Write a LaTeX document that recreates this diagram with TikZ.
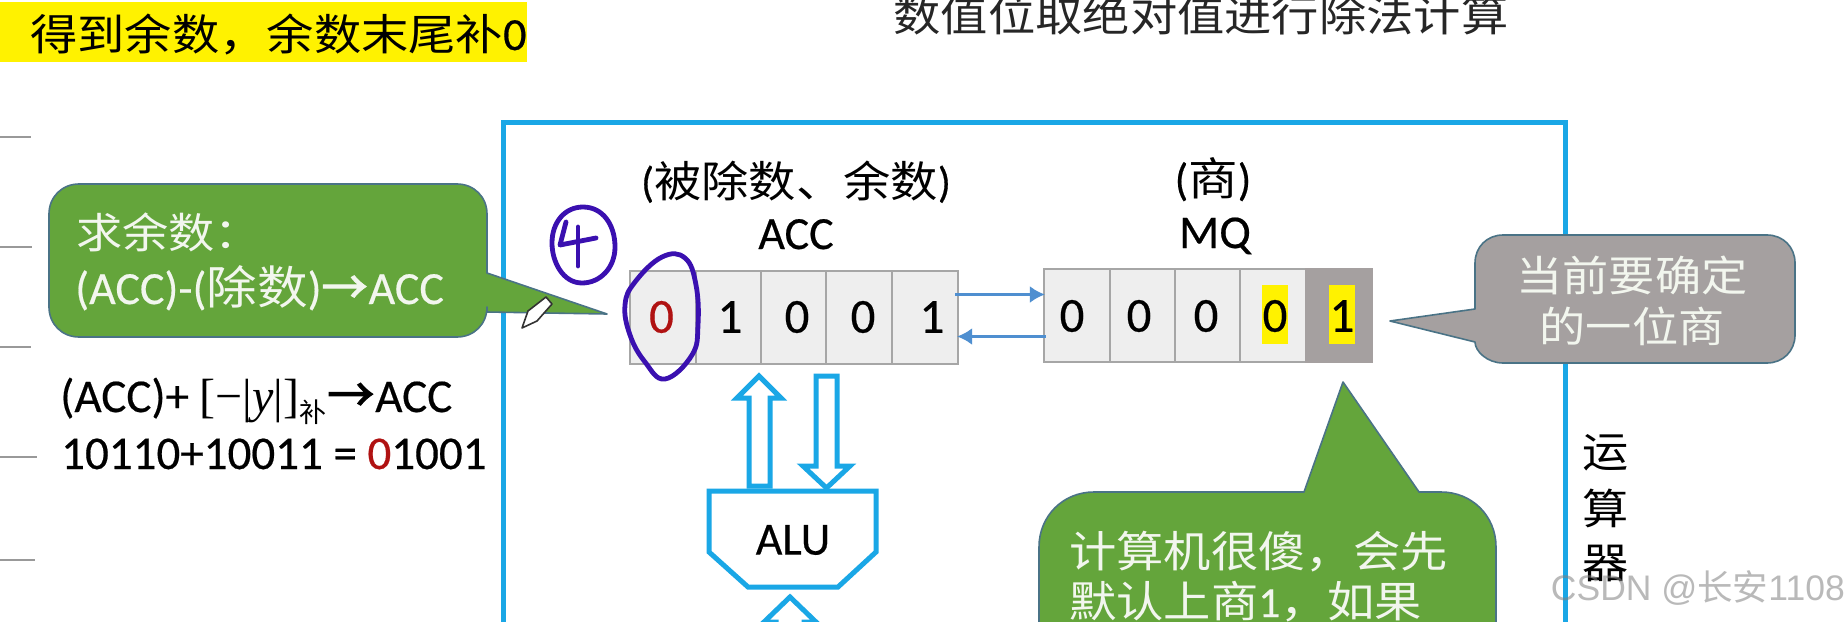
\documentclass[tikz,border=0pt]{standalone}
\usepackage{fontspec}
\setmainfont{Carlito}[FakeBold=0.4]
\newfontfamily\cjk[FakeStretch=1.1]{Noto Sans CJK SC}
\newfontfamily\cjkplain{Noto Sans CJK SC}
\newfontfamily\arrowfont[FakeBold=2.5]{Noto Sans CJK SC}
\newfontfamily\serifx{Liberation Serif}
\newfontfamily\wm{Liberation Sans}
\newcommand{\fsz}[1]{\fontsize{#1}{#1}\selectfont}
\newcommand{\cj}[1]{{\cjk #1}}
\definecolor{boxblue}{HTML}{1AA7E6}
\definecolor{calgreen}{HTML}{64A53B}
\definecolor{calgray}{HTML}{A5A0A0}
\definecolor{caledge}{HTML}{4A7386}
\definecolor{celledge}{HTML}{A6A6A6}
\definecolor{cellfill}{HTML}{EEEEEE}
\definecolor{ink}{HTML}{3A10B0}
\definecolor{redz}{HTML}{B01212}
\definecolor{arrowblue}{HTML}{4F8FD0}
\definecolor{softwhite}{HTML}{F2F6EE}
\usetikzlibrary{arrows.meta}
\tikzset{
  x=1pt,y=-1pt,
  cellbox/.style={draw=celledge,fill=cellfill,line width=2.5pt,inner sep=0pt,minimum width=65.6pt,minimum height=93pt},
  digit/.style={inner sep=0pt,font=\fsz{49},text=black},
  txt/.style={inner sep=0pt,anchor=base,text=black},
  ctxt/.style={inner sep=0pt,anchor=base,text=softwhite},
  callg/.style={fill=calgreen,draw=caledge,line width=1.6pt,line join=round},
  callgr/.style={fill=calgray,draw=caledge,line width=1.6pt,line join=round},
  hollow/.style={draw=boxblue,line width=5pt,fill=white,line join=miter,miter limit=10},
  tick/.style={draw=gray!80,line width=2pt},
  thinarrow/.style={draw=arrowblue,line width=3.2pt,-{Latex[length=15pt,width=17pt]}},
  hand/.style={draw=ink,line width=4.8pt,line cap=round,line join=round}
}
\begin{document}
\begin{tikzpicture}
\useasboundingbox (0,0) rectangle (1846,621);
\clip (0,0) rectangle (1846,621);
\fill[white] (0,0) rectangle (1846,621);

% top left banner
\fill[yellow] (0,2) rectangle (527,62);
\node[txt,anchor=base west] (banner) at (30,50) {\fsz{43}\cj{得到余数，余数末尾补}\fsz{46}0};
\node[txt] (title) at (1201,31) {\fsz{43}\color{black!85}\cj{数值位取绝对值进行除法计算}};

% ticks
\foreach \yy/\xe in {137/31,247/32,347/31,457/37,560/35}
  \draw[tick] (0,\yy) -- (\xe,\yy);

% operator box
\draw[boxblue,line width=5pt] (503,640) -- (503,122) -- (1565,122) -- (1565,640);

% green callout left
\draw[callg] (79,184) -- (457,184) .. controls (474,184) and (487,197) .. (487,214) -- (487,273) -- (607,314) -- (487,312) -- (487,307) .. controls (487,324) and (474,337) .. (457,337) -- (79,337) .. controls (62,337) and (49,324) .. (49,307) -- (49,214) .. controls (49,197) and (62,184) .. (79,184) -- cycle;
\node[ctxt,anchor=base west] (rem1) at (76,248) {\fsz{42}\cj{求余数：}};
\node[ctxt,anchor=base west] (rem2) at (75,304) {\fsz{46}(ACC)-(\cj{除数}){\arrowfont →}\hspace{1pt}ACC};

% pencil cursor
\draw[fill=white,draw=black!80,line width=1.6pt,line join=round] (522,328) -- (528,311) -- (546,297) -- (552,304) -- (537,321) -- cycle;

% handwritten 4
\draw[hand] (583,207) .. controls (603,207) and (615,225) .. (615,247) .. controls (615,268) and (600,283) .. (582,283) .. controls (563,283) and (552,262) .. (552,243) .. controls (552,222) and (565,207) .. (583,207);
\draw[hand] (566,222) -- (560,245) -- (596,238);
\draw[hand] (578,227) -- (578,266);

% ACC labels
\node[txt] (accnote) at (796,197) {\fsz{43}(\cj{被除数、余数})};
\node[txt] (acclabel) at (796,249) {\fsz{46}ACC};
\node[txt] (mqnote) at (1213,195) {\fsz{45}(\cj{商})};
\node[txt] (mqlabel) at (1215,248) {\fsz{47}MQ};

% ACC register
\node[cellbox] (a1) at (663,317.5) {};
\node[cellbox] (a2) at (729,317.5) {};
\node[cellbox] (a3) at (794,317.5) {};
\node[cellbox] (a4) at (859,317.5) {};
\node[cellbox] (a5) at (925,317.5) {};
\node[digit,text=redz] (da1) at (661.5,317) {0};
\node[digit] (da2) at (730,317) {1};
\node[digit] (da3) at (797,317) {0};
\node[digit] (da4) at (863,317) {0};
\node[digit] (da5) at (932,317) {1};

% MQ register
\node[cellbox] (m1) at (1077,315.5) {};
\node[cellbox] (m2) at (1143,315.5) {};
\node[cellbox] (m3) at (1208,315.5) {};
\node[cellbox] (m4) at (1273,315.5) {};
\node[cellbox,fill=calgray,draw=calgray] (m5) at (1339,315.5) {};
\fill[yellow] (1262,285) rectangle (1288,344);
\fill[yellow] (1329,285) rectangle (1355,344);
\node[digit] (dm1) at (1072,316) {0};
\node[digit] (dm2) at (1139,316) {0};
\node[digit] (dm3) at (1206,316) {0};
\node[digit] (dm4) at (1275,316) {0};
\node[digit] (dm5) at (1342,316) {1};

% arrows between the registers
\path (a5.east) ++(-4,-23) coordinate (au) (m1.west) ++(2,-21) coordinate (mu);
\path (a5.east) ++(-2,19) coordinate (ad) (m1.west) ++(3,21) coordinate (md);
\draw[thinarrow] (au) -- (mu);
\draw[thinarrow] (md) -- (ad);

% handwritten ring
\draw[hand] plot[smooth cycle,tension=.7] coordinates {(662,257) (685,258) (696,285) (698,325) (692,355) (665,379) (645,362) (630,335) (625,305) (635,282)};

% ALU
\node[inner sep=0pt,font=\fsz{46}] (alutext) at (793,540) {ALU};
\draw[hollow,fill=none] (709,491) -- (876,491) -- (876,552) -- (838,587) -- (748,587) -- (709,552) -- cycle;
\draw[hollow] (749,486) -- (749,398) -- (737,398) -- (759,376) -- (781,398) -- (770,398) -- (770,486) -- cycle;
\draw[hollow] (816,376) -- (837,376) -- (837,466) -- (850,466) -- (826.5,488) -- (803,466) -- (816,466) -- cycle;
\draw[hollow] (790,597) -- (816,622) -- (804,622) -- (804,640) -- (776,640) -- (776,622) -- (764,622) -- cycle;

% formula
\node[txt,anchor=base west] (f1) at (60,412) {\fsz{47}(ACC)+ {\serifx\fsz{48}[−|\textit{y}|]}{\fsz{27}\raisebox{-10pt}{\cjkplain 补}}\hspace{1pt}{\arrowfont →}\hspace{1pt}ACC};
\node[txt,anchor=base west] (f2) at (61,469) {\fsz{47}10110+10011 = {\color{redz}0}1001};

% grey callout
\draw[callgr] (1503,235) -- (1767,235) .. controls (1783,235) and (1795,247) .. (1795,263) -- (1795,335) .. controls (1795,351) and (1783,363) .. (1767,363) -- (1503,363) .. controls (1487,363) and (1475,351) .. (1475,342) -- (1390,321) -- (1475,309) -- (1475,263) .. controls (1475,247) and (1487,235) .. (1503,235) -- cycle;
\node[ctxt] (g1) at (1632,291) {\fsz{42}\cj{当前要确定}};
\node[ctxt] (g2) at (1632,342) {\fsz{42}\cj{的一位商}};

% green callout bottom
\draw[callg] (1039,660) -- (1039,547) .. controls (1039,516) and (1063,492) .. (1094,492) -- (1304,492) -- (1343,382) -- (1419,492) -- (1441,492) .. controls (1472,492) and (1496,516) .. (1496,547) -- (1496,660) -- cycle;
\node[ctxt,anchor=base west] (q1) at (1069,567) {\fsz{43}\cj{计算机很傻，会先}};
\node[ctxt,anchor=base west] (q2) at (1069,617) {\fsz{43}\cj{默认上商}1\cj{，如果}};

% side label
\node[txt] (s1) at (1606,467) {\fsz{42}\cj{运}};
\node[txt] (s2) at (1606,524) {\fsz{42}\cj{算}};
\node[txt] (s3) at (1606,578) {\fsz{42}\cj{器}};

% watermark
\node[inner sep=0pt,anchor=base east,text=gray,opacity=.55] (wm) at (1845,600) {\fsz{35.5}\wm CSDN @{\cjkplain 长安}1108};
\end{tikzpicture}
\end{document}
